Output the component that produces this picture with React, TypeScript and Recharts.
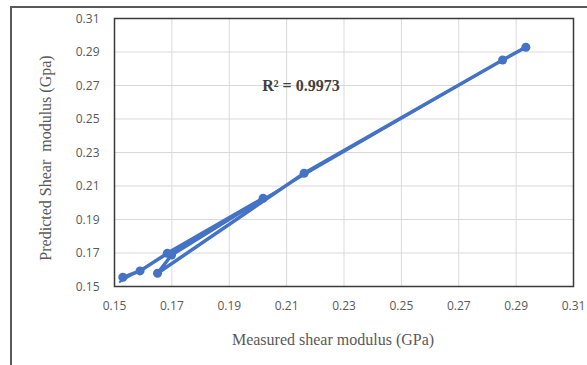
import React from "react";
import {
  ScatterChart,
  Scatter,
  XAxis,
  YAxis,
  CartesianGrid,
  ReferenceArea,
} from "recharts";

// measured vs predicted shear modulus (GPa), in the order the line joins them
const measured = [0.2934, 0.2853, 0.2161, 0.165, 0.1699, 0.2018, 0.1684, 0.1589, 0.1529];
const predicted = [0.2928, 0.2852, 0.2176, 0.1579, 0.1688, 0.2027, 0.1698, 0.1593, 0.1555];

// linear trendline end points
const trendX = [0.1516, 0.2934];
const trendY = [0.1525, 0.2932];

const ticks = [0.15, 0.17, 0.19, 0.21, 0.23, 0.25, 0.27, 0.29, 0.31];

const BLUE = "#4472C4";
const GRAY = "#595959";

const points = measured.map((x, i) => ({ x, y: predicted[i] }));
const trend = trendX.map((x, i) => ({ x, y: trendY[i] }));

const tickStyle = { fontSize: 12, fill: GRAY, fontFamily: "'Open Sans', sans-serif" };

export default function App() {
  return (
    <div
      style={{
        position: "absolute",
        left: 0,
        top: 0,
        width: 587,
        height: 365,
        overflow: "hidden",
        background: "#fff",
      }}
    >
      <div
        style={{
          position: "absolute",
          left: 10,
          top: 6,
          width: 640,
          height: 420,
          border: "2px solid #5a5a5a",
        }}
      />
      <ScatterChart
        width={587}
        height={365}
        margin={{ top: 18.5, right: 13.5, left: 54.5, bottom: 48.5 }}
        style={{ position: "absolute", left: 0, top: 0 }}
      >
        <CartesianGrid stroke="#d9d9d9" strokeWidth={1} />
        <XAxis
          type="number"
          dataKey="x"
          domain={[0.15, 0.31]}
          ticks={ticks}
          tickFormatter={(v: number) => v.toFixed(2)}
          tick={tickStyle}
          tickLine={false}
          axisLine={false}
          tickSize={0}
          tickMargin={15}
          height={30}
          allowDataOverflow
        />
        <YAxis
          type="number"
          dataKey="y"
          domain={[0.15, 0.31]}
          ticks={ticks}
          tickFormatter={(v: number) => v.toFixed(2)}
          tick={tickStyle}
          tickLine={false}
          axisLine={false}
          tickSize={0}
          tickMargin={15}
          width={60}
          allowDataOverflow
        />
        <ReferenceArea
          x1={0.15}
          x2={0.31}
          y1={0.15}
          y2={0.31}
          fill="none"
          stroke="#3a3a3a"
          strokeWidth={1.5}
          fillOpacity={0}
        />
        <Scatter
          data={trend}
          line={{ stroke: BLUE, strokeWidth: 2 }}
          shape={() => <g />}
          isAnimationActive={false}
        />
        <Scatter
          data={points}
          fill={BLUE}
          line={{ stroke: BLUE, strokeWidth: 3.5 }}
          shape="circle"
          isAnimationActive={false}
        />
      </ScatterChart>
      <div
        style={{
          position: "absolute",
          left: 301,
          top: 86,
          transform: "translate(-50%, -50%)",
          fontFamily: "'Liberation Serif', serif",
          fontWeight: "bold",
          fontSize: 16,
          color: "#404040",
          whiteSpace: "nowrap",
        }}
      >
        R² = 0.9973
      </div>
      <div
        style={{
          position: "absolute",
          left: 333,
          top: 340,
          transform: "translate(-50%, -50%)",
          fontFamily: "'Liberation Serif', serif",
          fontSize: 16,
          color: GRAY,
          whiteSpace: "nowrap",
        }}
      >
        Measured shear modulus (GPa)
      </div>
      <div
        style={{
          position: "absolute",
          left: 46,
          top: 158,
          transform: "translate(-50%, -50%) rotate(-90deg)",
          fontFamily: "'Liberation Serif', serif",
          fontSize: 16,
          color: GRAY,
          whiteSpace: "pre",
        }}
      >
        Predicted Shear  modulus (Gpa)
      </div>
    </div>
  );
}
